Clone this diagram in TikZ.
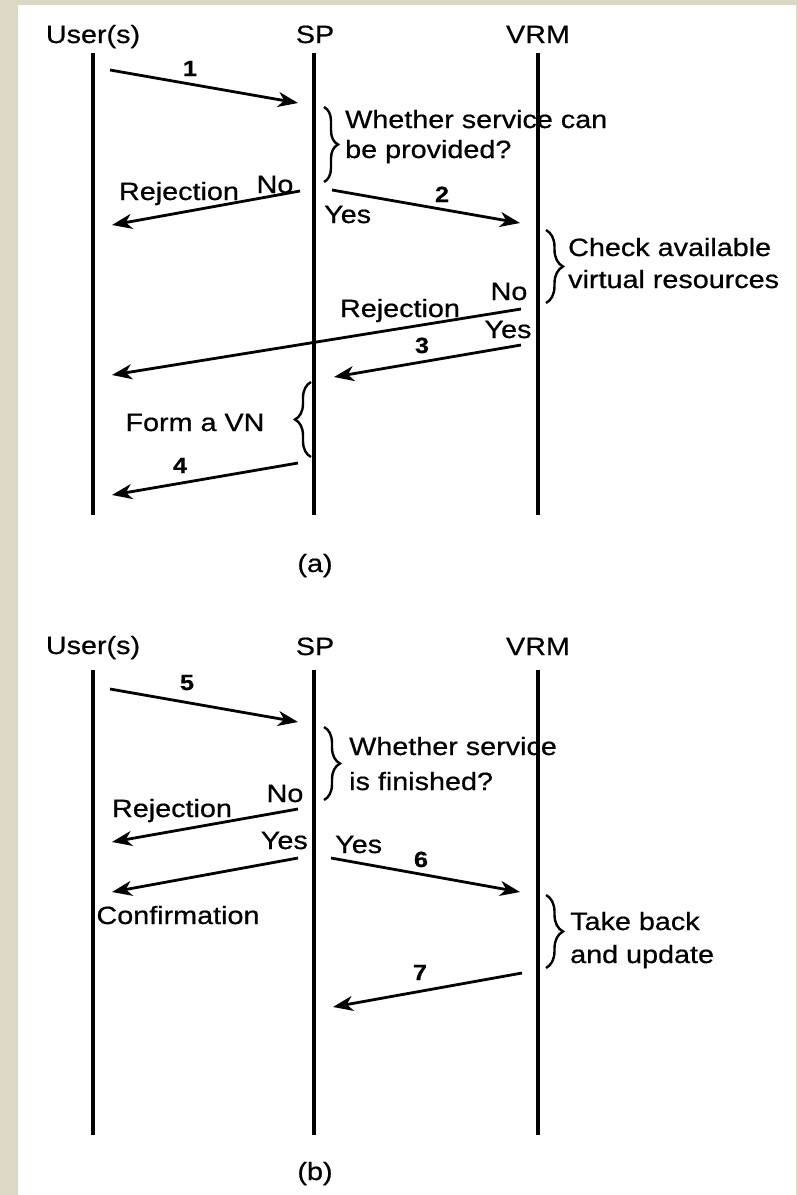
\documentclass[tikz,border=0pt]{standalone}
\usepackage{fontspec}
\setmainfont{Liberation Sans}[FakeStretch=1.15,FakeBold=0.6]
\usetikzlibrary{arrows.meta,decorations.pathreplacing}
\definecolor{frame}{RGB}{221,216,196}
\tikzset{
  lbl/.style={inner sep=0pt,font=\fontsize{25}{28}\selectfont},
  num/.style={inner sep=0pt,font=\fontsize{22}{24}\selectfont\bfseries},
  life/.style={line width=3.2pt},
  msg/.style={line width=2.8pt,-{Stealth[length=20pt,width=15pt,inset=6pt]}},
  brc/.style={line width=2.4pt,decorate,decoration={brace,amplitude=#1}},
  brc/.default=14pt
}
\begin{document}
\begin{tikzpicture}[x=1pt,y=-1pt]
\useasboundingbox (0,0) rectangle (798,1195);
\fill[frame] (0,0) rectangle (798,1195);
\fill[white] (18,5) rectangle (796,1195);

% ---------------- (a) ----------------
\node[lbl,anchor=base] (ua) at (93,43) {User(s)};
\node[lbl,anchor=base] (sa) at (315,43) {SP};
\node[lbl,anchor=base] (va) at (538,43) {VRM};
\coordinate (ua0) at (93,53);  \coordinate (ua1) at (93,515);
\coordinate (sa0) at (314,53); \coordinate (sa1) at (314,515);
\coordinate (va0) at (538,53); \coordinate (va1) at (538,515);
\draw[life] (ua0) -- (ua1);
\draw[life] (sa0) -- (sa1);
\draw[life] (va0) -- (va1);

% message 1
\coordinate (m1s) at (110,70); \coordinate (m1e) at (298,103);
\draw[msg] (m1s) -- (m1e);
\node[num,anchor=base] (n1) at (190,76) {1};

% decision at SP
\draw[brc] (324,107) -- (324,182);
\node[lbl,anchor=base west] (q1a) at (345,128) {Whether service can};
\node[lbl,anchor=base west] (q1b) at (345,158) {be provided?};

% rejection from SP
\coordinate (r1s) at (300,191); \coordinate (r1e) at (112,225);
\draw[msg] (r1s) -- (r1e);
\node[lbl,anchor=base] (no1) at (275,193) {No};
\node[lbl,anchor=base] (rj1) at (179,200) {Rejection};
\node[lbl,anchor=base west] (ys1) at (324,223) {Yes};

% message 2
\coordinate (m2s) at (332,190); \coordinate (m2e) at (520,223);
\draw[msg] (m2s) -- (m2e);
\node[num,anchor=base] (n2) at (442,202) {2};

% check at VRM
\draw[brc=17pt] (546,230) -- (546,303);
\node[lbl,anchor=base west] (c1) at (568,256) {Check available};
\node[lbl,anchor=base west] (c2) at (568,288) {virtual resources};

% long rejection from VRM
\coordinate (r2s) at (521,309); \coordinate (r2e) at (112,375);
\draw[msg] (r2s) -- (r2e);
\node[lbl,anchor=base] (no2) at (509,300) {No};
\node[lbl,anchor=base] (rj2) at (400,317) {Rejection};
\node[lbl,anchor=base] (ys2) at (508,338) {Yes};

% message 3
\coordinate (m3s) at (521,345); \coordinate (m3e) at (334,377);
\draw[msg] (m3s) -- (m3e);
\node[num,anchor=base] (n3) at (422,353) {3};

% form a VN
\draw[brc=16pt] (311,457) -- (311,382);
\node[lbl,anchor=base] (fv) at (195,431) {Form a VN};

% message 4
\coordinate (m4s) at (298,463); \coordinate (m4e) at (112,495);
\draw[msg] (m4s) -- (m4e);
\node[num,anchor=base] (n4) at (180,473) {4};

\node[lbl,anchor=base] (capa) at (315,572) {(a)};

% ---------------- (b) ----------------
\node[lbl,anchor=base] (ub) at (93,654) {User(s)};
\node[lbl,anchor=base] (sb) at (315,655) {SP};
\node[lbl,anchor=base] (vb) at (538,655) {VRM};
\coordinate (ub0) at (93,670);  \coordinate (ub1) at (93,1135);
\coordinate (sb0) at (314,670); \coordinate (sb1) at (314,1135);
\coordinate (vb0) at (538,670); \coordinate (vb1) at (538,1135);
\draw[life] (ub0) -- (ub1);
\draw[life] (sb0) -- (sb1);
\draw[life] (vb0) -- (vb1);

% message 5
\coordinate (m5s) at (110,689); \coordinate (m5e) at (298,722);
\draw[msg] (m5s) -- (m5e);
\node[num,anchor=base] (n5) at (187,690) {5};

% decision at SP
\draw[brc=16pt] (324,727) -- (324,800);
\node[lbl,anchor=base west] (q2a) at (349,755) {Whether service};
\node[lbl,anchor=base west] (q2b) at (349,790) {is finished?};

% rejection
\coordinate (r3s) at (298,809); \coordinate (r3e) at (112,842);
\draw[msg] (r3s) -- (r3e);
\node[lbl,anchor=base] (no3) at (285,802) {No};
\node[lbl,anchor=base] (rj3) at (172,817) {Rejection};

% confirmation
\coordinate (cfs) at (298,858); \coordinate (cfe) at (112,892);
\draw[msg] (cfs) -- (cfe);
\node[lbl,anchor=base east] (ys3) at (308,849) {Yes};
\node[lbl,anchor=base] (cf) at (178,924) {Confirmation};

% message 6
\node[lbl,anchor=base west] (ys4) at (335,853) {Yes};
\coordinate (m6s) at (331,858); \coordinate (m6e) at (520,892);
\draw[msg] (m6s) -- (m6e);
\node[num,anchor=base] (n6) at (421,867) {6};

% take back at VRM
\draw[brc=17pt] (546,895) -- (546,968);
\node[lbl,anchor=base west] (tb1) at (570,930) {Take back};
\node[lbl,anchor=base west] (tb2) at (570,963) {and update};

% message 7
\coordinate (m7s) at (522,973); \coordinate (m7e) at (333,1007);
\draw[msg] (m7s) -- (m7e);
\node[num,anchor=base] (n7) at (420,980) {7};

\node[lbl,anchor=base] (capb) at (315,1180) {(b)};
\end{tikzpicture}
\end{document}
